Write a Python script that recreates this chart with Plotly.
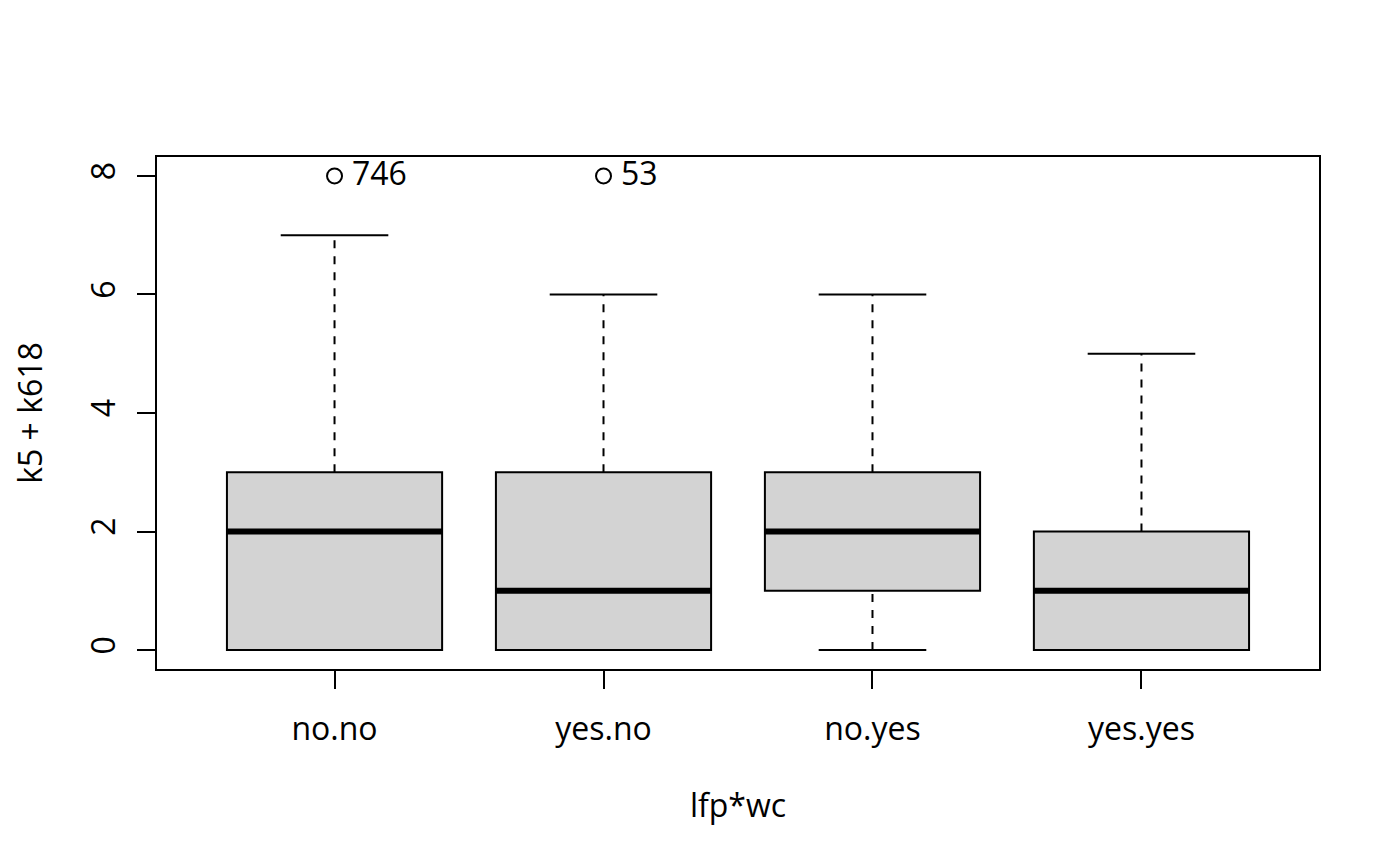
import plotly.graph_objects as go

# boxplot stats (k5 + k618 by lfp*wc)
groups = ["no.no", "yes.no", "no.yes", "yes.yes"]
lower = [0, 0, 0, 0]
q1 = [0, 0, 1, 0]
median = [2, 1, 2, 1]
q3 = [3, 3, 3, 2]
upper = [7, 6, 6, 5]

# outliers: group index, value, label
out_group = [0, 1]
out_value = [8, 8]
out_label = ["746", "53"]

y_ticks = [0, 2, 4, 6, 8]

FONT = "Open Sans"
FS = 32
pos = list(range(1, len(groups) + 1))
half_box = 0.4
half_cap = 0.2

fig = go.Figure()

# whiskers (dashed)
wx, wy = [], []
for p, lo, a, b, hi in zip(pos, lower, q1, q3, upper):
    wx += [p, p, None, p, p, None]
    wy += [b, hi, None, lo, a, None]
fig.add_trace(go.Scatter(x=wx, y=wy, mode="lines",
                         line=dict(color="black", width=2, dash="8px,8px"),
                         hoverinfo="skip"))

# staples
sx, sy = [], []
for p, lo, hi in zip(pos, lower, upper):
    sx += [p - half_cap, p + half_cap, None, p - half_cap, p + half_cap, None]
    sy += [hi, hi, None, lo, lo, None]
fig.add_trace(go.Scatter(x=sx, y=sy, mode="lines",
                         line=dict(color="black", width=2), hoverinfo="skip"))

# boxes
fig.add_trace(go.Bar(x=pos, y=[b - a for a, b in zip(q1, q3)], base=q1,
                     width=2 * half_box,
                     marker=dict(color="#d3d3d3", line=dict(color="black", width=2)),
                     hoverinfo="skip"))

# medians
mx, my = [], []
for p, m in zip(pos, median):
    mx += [p - half_box, p + half_box, None]
    my += [m, m, None]
fig.add_trace(go.Scatter(x=mx, y=my, mode="lines",
                         line=dict(color="black", width=6), hoverinfo="skip"))

# outliers
ox = [pos[g] for g in out_group]
fig.add_trace(go.Scatter(x=ox, y=out_value, mode="markers",
                         marker=dict(symbol="circle-open", size=15,
                                     color="black", line=dict(width=2)),
                         hoverinfo="skip"))
for x, y, lab in zip(ox, out_value, out_label):
    fig.add_annotation(x=x, y=y, text=lab, showarrow=False, xanchor="left",
                       xshift=15, yshift=3,
                       font=dict(family=FONT, size=FS, color="black"))

# page has an 8px body margin, so the figure is 8px smaller than the window
fig.update_layout(
    width=1392, height=858,
    margin=dict(l=149, r=81, t=149, b=197),
    plot_bgcolor="white", paper_bgcolor="white",
    showlegend=False, barmode="overlay",
    font=dict(family=FONT, size=FS, color="black"),
)
fig.update_xaxes(range=[0.34, 4.66], tickvals=pos, ticktext=groups,
                 showgrid=False, zeroline=False, showline=True, mirror=True,
                 linecolor="black", linewidth=2, ticks="outside", ticklen=18,
                 tickwidth=2, tickcolor="black", ticklabelstandoff=13,
                 automargin=False,
                 title=dict(text="lfp*wc", standoff=46,
                            font=dict(family=FONT, size=FS, color="black")))
fig.update_yaxes(range=[-0.32, 8.32], tickvals=y_ticks, tickangle=-90,
                 showgrid=False, zeroline=False, showline=True, mirror=True,
                 linecolor="black", linewidth=2, ticks="outside", ticklen=18,
                 tickwidth=2, tickcolor="black", ticklabelstandoff=9,
                 automargin=False,
                 title=dict(text="k5 + k618", standoff=46,
                            font=dict(family=FONT, size=FS, color="black")))

fig.write_html("out.html")
